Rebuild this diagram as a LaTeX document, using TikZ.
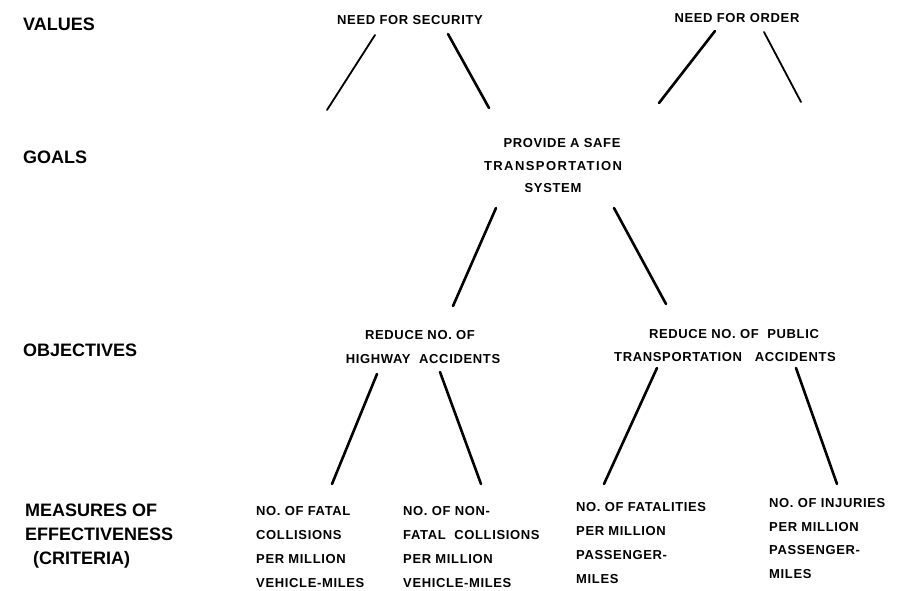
\documentclass[tikz,border=0pt]{standalone}
\usepackage{fontspec}
\setmainfont{Liberation Sans}
\newfontfamily\smallfam[LetterSpace=5]{Liberation Sans}
\newfontfamily\widefam[LetterSpace=11]{Liberation Sans}
\tikzset{
  big/.style={anchor=base west, inner sep=0pt, font=\fontsize{18}{18}\selectfont\bfseries},
  lbl/.style={anchor=base, inner sep=0pt, font=\fontsize{13}{13}\selectfont\smallfam\bfseries},
  wlbl/.style={anchor=base, inner sep=0pt, font=\fontsize{13}{13}\selectfont\widefam\bfseries},
  lblw/.style={lbl, anchor=base west},
  link/.style={line width=2.6pt, line cap=round},
  thin link/.style={line width=1.8pt, line cap=round}
}
\begin{document}
\begin{tikzpicture}[x=1pt,y=-1pt]
\useasboundingbox (0,0) rectangle (908,591);
\fill[white] (0,0) rectangle (908,591);
% level labels
\node[big] (values) at (23,30.5) {VALUES};
\node[big] (goals) at (23,163.5) {GOALS};
\node[big] (objectives) at (23,356.5) {OBJECTIVES};
\node[big] (moe1) at (25,516.5) {MEASURES OF};
\node[big] (moe2) at (25,540.5) {EFFECTIVENESS};
\node[big] (moe3) at (33,564.5) {(CRITERIA)};
% values
\node[lbl] (security) at (410,24.7) {NEED FOR SECURITY};
\node[lbl] (order) at (737,22.7) {NEED FOR ORDER};
% goal
\node[lbl] (goal1) at (562,147.7) {PROVIDE A SAFE};
\node[wlbl] (goal2) at (553,170.7) {TRANSPORTATION};
\node[lbl] (goal3) at (553,192.7) {SYSTEM};
% objectives
\node[lbl] (obja1) at (420,339.7) {REDUCE NO. OF};
\node[lbl] (obja2) at (423,363.7) {HIGHWAY\ \ ACCIDENTS};
\node[lbl] (objb1) at (734,338.7) {REDUCE NO. OF\ \ PUBLIC};
\node[lbl] (objb2) at (725,361.7) {TRANSPORTATION\ \ \ ACCIDENTS};
% measures
\node[lblw] (m1a) at (256,515.7) {NO. OF FATAL};
\node[lblw] (m1b) at (256,539.7) {COLLISIONS};
\node[lblw] (m1c) at (256,563.7) {PER MILLION};
\node[lblw] (m1d) at (256,587.7) {VEHICLE-MILES};
\node[lblw] (m2a) at (403,515.7) {NO. OF NON-};
\node[lblw] (m2b) at (403,539.7) {FATAL\ \ COLLISIONS};
\node[lblw] (m2c) at (403,563.7) {PER MILLION};
\node[lblw] (m2d) at (403,587.7) {VEHICLE-MILES};
\node[lblw] (m3a) at (576,511.7) {NO. OF FATALITIES};
\node[lblw] (m3b) at (576,535.7) {PER MILLION};
\node[lblw] (m3c) at (576,559.7) {PASSENGER-};
\node[lblw] (m3d) at (576,583.7) {MILES};
\node[lblw] (m4a) at (769,507.7) {NO. OF INJURIES};
\node[lblw] (m4b) at (769,531.7) {PER MILLION};
\node[lblw] (m4c) at (769,554.7) {PASSENGER-};
\node[lblw] (m4d) at (769,578.7) {MILES};
% connector end points
\coordinate (v1t) at (375,35);  \coordinate (v1b) at (327,110);
\coordinate (v2t) at (448,34);  \coordinate (v2b) at (489,108);
\coordinate (v3t) at (715,31);  \coordinate (v3b) at (659,103);
\coordinate (v4t) at (764,32);  \coordinate (v4b) at (801,102);
\coordinate (g1t) at (496,208); \coordinate (g1b) at (453,306);
\coordinate (g2t) at (614,208); \coordinate (g2b) at (666,304);
\coordinate (o1t) at (377,374); \coordinate (o1b) at (332,484);
\coordinate (o2t) at (440,372); \coordinate (o2b) at (481,484);
\coordinate (o3t) at (657,368); \coordinate (o3b) at (604,484);
\coordinate (o4t) at (796,368); \coordinate (o4b) at (837,484);
\draw[thin link] (v1t) -- (v1b);
\draw[link] (v2t) -- (v2b);
\draw[link] (v3t) -- (v3b);
\draw[thin link] (v4t) -- (v4b);
\draw[link] (g1t) -- (g1b);
\draw[link] (g2t) -- (g2b);
\draw[link] (o1t) -- (o1b);
\draw[link] (o2t) -- (o2b);
\draw[link] (o3t) -- (o3b);
\draw[link] (o4t) -- (o4b);
\end{tikzpicture}
\end{document}
